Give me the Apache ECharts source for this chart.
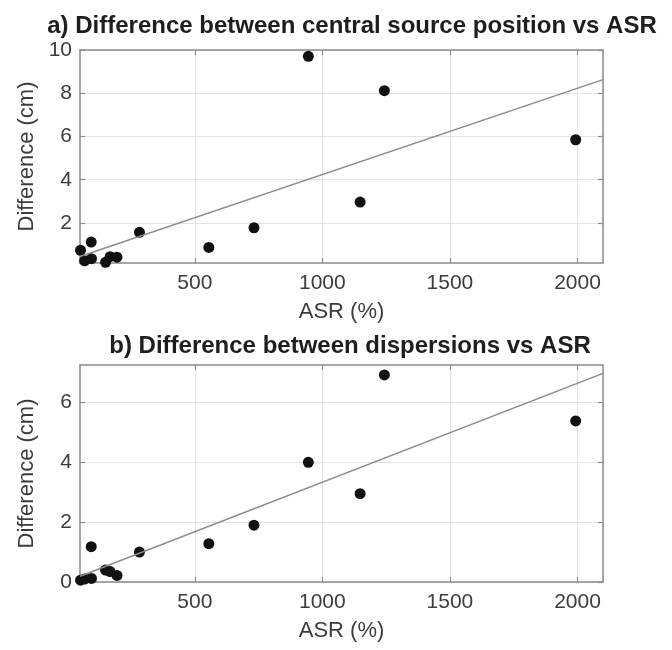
<!DOCTYPE html>
<html>
<head>
<meta charset="utf-8">
<script src="https://cdn.jsdelivr.net/npm/echarts@6/dist/echarts.min.js"></script>
<style>
  html, body { margin: 0; background: #fff; }
  #chart { width: 672px; height: 650px; }
</style>
</head>
<body>
<div id="chart"></div>
<script>
// ASR (%) of each case, shared by both panels
const asr = [52, 68, 94, 95, 150, 168, 195, 283, 555, 732, 945, 1148, 1243, 1993];
// a) difference between central source positions (cm)
const centralDiff = [0.74, 0.25, 1.12, 0.35, 0.18, 0.44, 0.42, 1.57, 0.87, 1.78, 9.71, 2.97, 8.12, 5.85];
// b) difference between dispersions (cm)
const dispersionDiff = [0.06, 0.10, 1.18, 0.12, 0.40, 0.35, 0.22, 1.00, 1.28, 1.90, 4.00, 2.95, 6.92, 5.38];
// fitted lines, read at the two ends of the x range
const fitX = [50, 2100];
const fitCentral = [0.45, 8.63];
const fitDispersion = [0.19, 6.97];
// tick labels
const xTicks = [500, 1000, 1500, 2000];
const yTicksA = [2, 4, 6, 8, 10];
const yTicksB = [0, 2, 4, 6];

const font = 'Liberation Sans, Arial, Helvetica, sans-serif';
const boxColor = '#8a8a8a';
const labelColor = '#3c3c3c';

const myChart = echarts.init(document.getElementById('chart'));

function pairs(xs, ys) {
    return xs.map((x, i) => [x, ys[i]]);
}

function xAxisFor(grid, pos, main) {
    return {
        type: 'value', gridIndex: grid, position: pos,
        min: 50, max: 2100,
        name: main ? 'ASR (%)' : '',
        nameLocation: 'middle', nameGap: 38,
        nameTextStyle: { fontFamily: font, fontSize: 22, color: labelColor },
        axisLine: { show: true, onZero: false, lineStyle: { color: boxColor, width: 1.5 } },
        axisTick: { show: true, inside: true, length: 5, customValues: xTicks,
            lineStyle: { color: boxColor, width: 1.2 } },
        axisLabel: { show: main, customValues: xTicks, margin: 10, formatter: v => String(v),
            fontFamily: font, fontSize: 21, color: labelColor },
        splitLine: { show: main, lineStyle: { color: '#e3e3e3', width: 1 } }
    };
}

function yAxisFor(grid, pos, main, min, max, ticks) {
    return {
        type: 'value', gridIndex: grid, position: pos,
        min: min, max: max,
        name: main ? 'Difference (cm)' : '',
        nameLocation: 'middle', nameGap: 42,
        nameTextStyle: { fontFamily: font, fontSize: 22, color: labelColor },
        axisLine: { show: true, onZero: false, lineStyle: { color: boxColor, width: 1.5 } },
        axisTick: { show: true, inside: true, length: 5, customValues: ticks,
            lineStyle: { color: boxColor, width: 1.2 } },
        axisLabel: { show: main, customValues: ticks, margin: 8, formatter: v => String(v),
            fontFamily: font, fontSize: 21, color: labelColor },
        splitLine: { show: main, lineStyle: { color: '#e3e3e3', width: 1 } }
    };
}

const titleStyle = { fontFamily: font, fontSize: 24, fontWeight: 'bold', color: '#1e1e1e' };

const option = {
    backgroundColor: '#fff',
    animation: false,
    title: [
        { text: 'a) Difference between central source position vs ASR', left: 347, top: 9,
          textAlign: 'center', textStyle: titleStyle },
        { text: 'b) Difference between dispersions vs ASR', left: 345, top: 329,
          textAlign: 'center', textStyle: titleStyle }
    ],
    grid: [
        { left: 80, right: 69, top: 50, height: 213 },
        { left: 80, right: 69, top: 365, height: 217 }
    ],
    xAxis: [
        xAxisFor(0, 'bottom', true), xAxisFor(0, 'top', false),
        xAxisFor(1, 'bottom', true), xAxisFor(1, 'top', false)
    ],
    yAxis: [
        yAxisFor(0, 'left', true, 0.15, 10, yTicksA), yAxisFor(0, 'right', false, 0.15, 10, yTicksA),
        yAxisFor(1, 'left', true, 0, 7.25, yTicksB), yAxisFor(1, 'right', false, 0, 7.25, yTicksB)
    ],
    series: [
        {
            type: 'line', xAxisIndex: 0, yAxisIndex: 0,
            data: pairs(fitX, fitCentral), symbol: 'none',
            lineStyle: { color: '#8c8c8c', width: 1.5 }
        },
        {
            type: 'scatter', xAxisIndex: 0, yAxisIndex: 0,
            data: pairs(asr, centralDiff), symbolSize: 11,
            itemStyle: { color: '#111', opacity: 1 }
        },
        {
            type: 'line', xAxisIndex: 2, yAxisIndex: 2,
            data: pairs(fitX, fitDispersion), symbol: 'none',
            lineStyle: { color: '#8c8c8c', width: 1.5 }
        },
        {
            type: 'scatter', xAxisIndex: 2, yAxisIndex: 2,
            data: pairs(asr, dispersionDiff), symbolSize: 11,
            itemStyle: { color: '#111', opacity: 1 }
        }
    ]
};

myChart.setOption(option);
</script>
</body>
</html>
